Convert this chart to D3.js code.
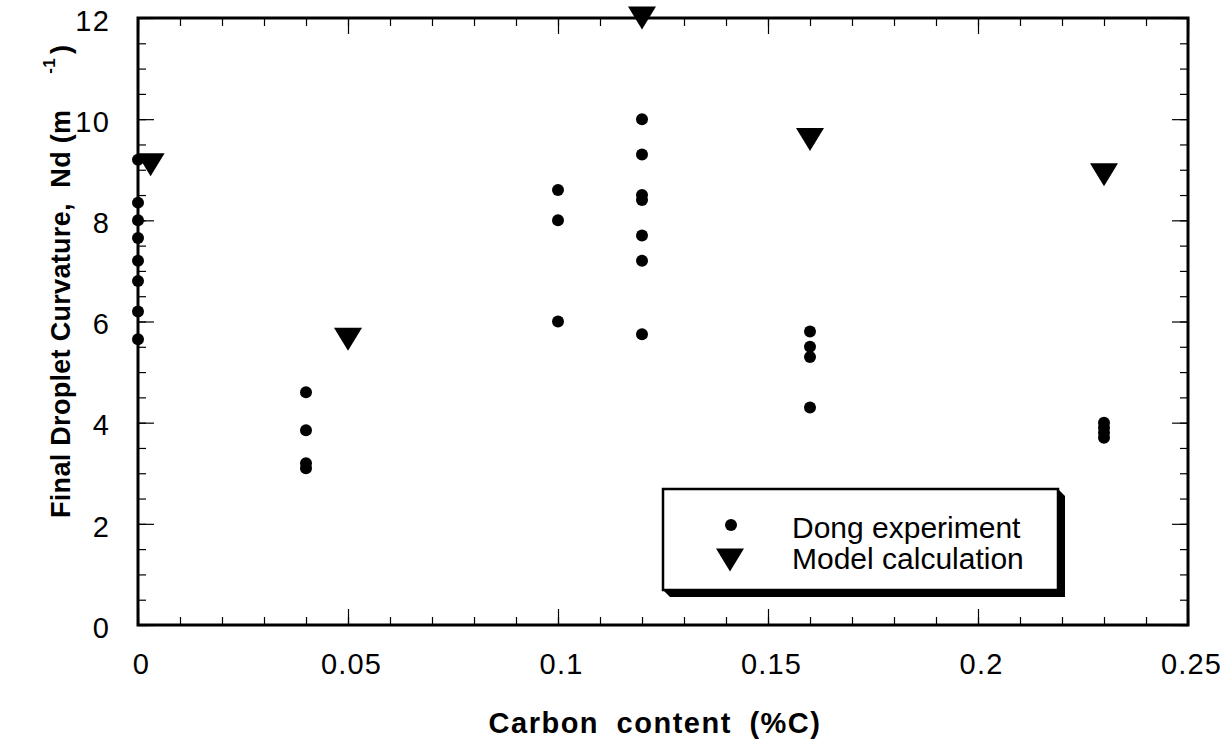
<!DOCTYPE html>
<html>
<head>
<meta charset="utf-8">
<script src="https://cdn.jsdelivr.net/npm/d3@7"></script>
<style>
  body { margin: 0; background: #fff; }
  text { font-family: "Liberation Sans", Arial, Helvetica, sans-serif; fill: #000; }
</style>
</head>
<body>
<div id="chart-area"></div>
<script>
// Dong experiment: carbon content and droplet curvature
var dongCarbon = [0, 0, 0, 0, 0, 0, 0, 0,
                  0.04, 0.04, 0.04, 0.04,
                  0.1, 0.1, 0.1,
                  0.12, 0.12, 0.12, 0.12, 0.12, 0.12, 0.12,
                  0.16, 0.16, 0.16, 0.16,
                  0.23, 0.23, 0.23, 0.23];
var dongCurv = [9.2, 8.35, 8.0, 7.65, 7.2, 6.8, 6.2, 5.65,
                4.6, 3.85, 3.2, 3.1,
                8.6, 8.0, 6.0,
                10.0, 9.3, 8.5, 8.4, 7.7, 7.2, 5.75,
                5.8, 5.5, 5.3, 4.3,
                4.0, 3.9, 3.8, 3.7];

// Model calculation
var modelCarbon = [0.003, 0.05, 0.12, 0.16, 0.23];
var modelCurv = [9.1, 5.65, 12.0, 9.6, 8.9];

var xTicks = [0, 0.05, 0.1, 0.15, 0.2, 0.25];
var yTicks = [0, 2, 4, 6, 8, 10, 12];

var W = 1226, H = 740;
var plot = { left: 138, right: 1188, top: 18, bottom: 625 };

var svg = d3.select("#chart-area").append("svg")
    .attr("width", W)
    .attr("height", H);

var x = d3.scaleLinear().domain([0, 0.25]).range([plot.left, plot.right]);
var y = d3.scaleLinear().domain([0, 12]).range([plot.bottom, plot.top]);

var xMinor = d3.range(0, 26).map((i) => i / 100);
var yMinor = d3.range(0, 25).map((i) => i / 2);

function styleAxis(g) {
    g.select(".domain").remove();
    g.selectAll(".tick line").attr("stroke", "#000").attr("stroke-width", 1.2);
    g.selectAll("text")
        .style("font-family", "'Liberation Sans', Arial, sans-serif")
        .style("font-size", "29px")
        .attr("fill", "#000");
}

// minor ticks, all four sides
svg.append("g").attr("transform", "translate(0," + plot.bottom + ")")
    .call(d3.axisBottom(x).tickValues(xMinor).tickSize(-8).tickFormat(""))
    .call(styleAxis);
svg.append("g").attr("transform", "translate(0," + plot.top + ")")
    .call(d3.axisTop(x).tickValues(xMinor).tickSize(-8).tickFormat(""))
    .call(styleAxis);
svg.append("g").attr("transform", "translate(" + plot.left + ",0)")
    .call(d3.axisLeft(y).tickValues(yMinor).tickSize(-8).tickFormat(""))
    .call(styleAxis);
svg.append("g").attr("transform", "translate(" + plot.right + ",0)")
    .call(d3.axisRight(y).tickValues(yMinor).tickSize(-8).tickFormat(""))
    .call(styleAxis);

// major ticks
svg.append("g").attr("transform", "translate(0," + plot.bottom + ")")
    .call(d3.axisBottom(x).tickValues(xTicks).tickSize(-16).tickPadding(28)
        .tickFormat((d) => String(d)))
    .call(styleAxis)
    .selectAll("text").attr("dx", 3).style("letter-spacing", "1.2px");
svg.append("g").attr("transform", "translate(0," + plot.top + ")")
    .call(d3.axisTop(x).tickValues(xTicks).tickSize(-16).tickFormat(""))
    .call(styleAxis);
svg.append("g").attr("transform", "translate(" + plot.left + ",0)")
    .call(d3.axisLeft(y).tickValues(yTicks).tickSize(-16).tickPadding(28)
        .tickFormat((d) => String(d)))
    .call(styleAxis)
    .selectAll("text").attr("dy", "0.42em").style("letter-spacing", "1.2px");
svg.append("g").attr("transform", "translate(" + plot.right + ",0)")
    .call(d3.axisRight(y).tickValues(yTicks).tickSize(-16).tickFormat(""))
    .call(styleAxis);

// frame
svg.append("rect")
    .attr("x", plot.left).attr("y", plot.top)
    .attr("width", plot.right - plot.left).attr("height", plot.bottom - plot.top)
    .attr("fill", "none").attr("stroke", "#000").attr("stroke-width", 3);

// axis titles
svg.append("text")
    .attr("x", 655)
    .attr("y", 733)
    .attr("text-anchor", "middle")
    .style("font-size", "29px")
    .style("font-weight", "bold")
    .style("letter-spacing", "1.5px")
    .style("word-spacing", "8px")
    .text("Carbon content (%C)");

var yt = svg.append("text")
    .attr("transform", "translate(70,518) rotate(-90)")
    .style("font-size", "27px")
    .style("font-weight", "bold")
    .style("letter-spacing", "0.3px");
yt.append("tspan").text("Final Droplet Curvature,\u00a0\u00a0Nd (m");
yt.append("tspan").attr("dx", 36).attr("dy", -15).style("font-size", "17px").text("-1");
yt.append("tspan").attr("dx", 4).attr("dy", 15).text(")");

// markers
var tri = (cx, cy) => {
    var w = 14, h = 11.5;
    return "M" + (cx - w) + "," + (cy - h) + "L" + (cx + w) + "," + (cy - h) +
        "L" + cx + "," + (cy + h) + "Z";
};

svg.append("g").selectAll("path")
    .data(modelCarbon)
    .enter().append("path")
        .attr("d", (d, i) => tri(x(d), y(modelCurv[i])))
        .attr("fill", "#000");

svg.append("g").selectAll("circle")
    .data(dongCarbon)
    .enter().append("circle")
        .attr("cx", (d) => x(d))
        .attr("cy", (d, i) => y(dongCurv[i]))
        .attr("r", 6)
        .attr("fill", "#000");

// legend
var lg = svg.append("g");
lg.append("path")
    .attr("d", "M663,489 L1058,489 L1065,496 L1065,597 L670,597 L663,590 Z")
    .attr("fill", "#000");
lg.append("rect")
    .attr("x", 663).attr("y", 489).attr("width", 395).attr("height", 101)
    .attr("fill", "#fff").attr("stroke", "#000").attr("stroke-width", 2.5);
lg.append("circle").attr("cx", 731).attr("cy", 525).attr("r", 6).attr("fill", "#000");
lg.append("path").attr("d", tri(730, 560)).attr("fill", "#000");
lg.append("text").attr("x", 792).attr("y", 538)
    .style("font-size", "30px").text("Dong experiment");
lg.append("text").attr("x", 792).attr("y", 569)
    .style("font-size", "30px").text("Model calculation");
</script>
</body>
</html>
